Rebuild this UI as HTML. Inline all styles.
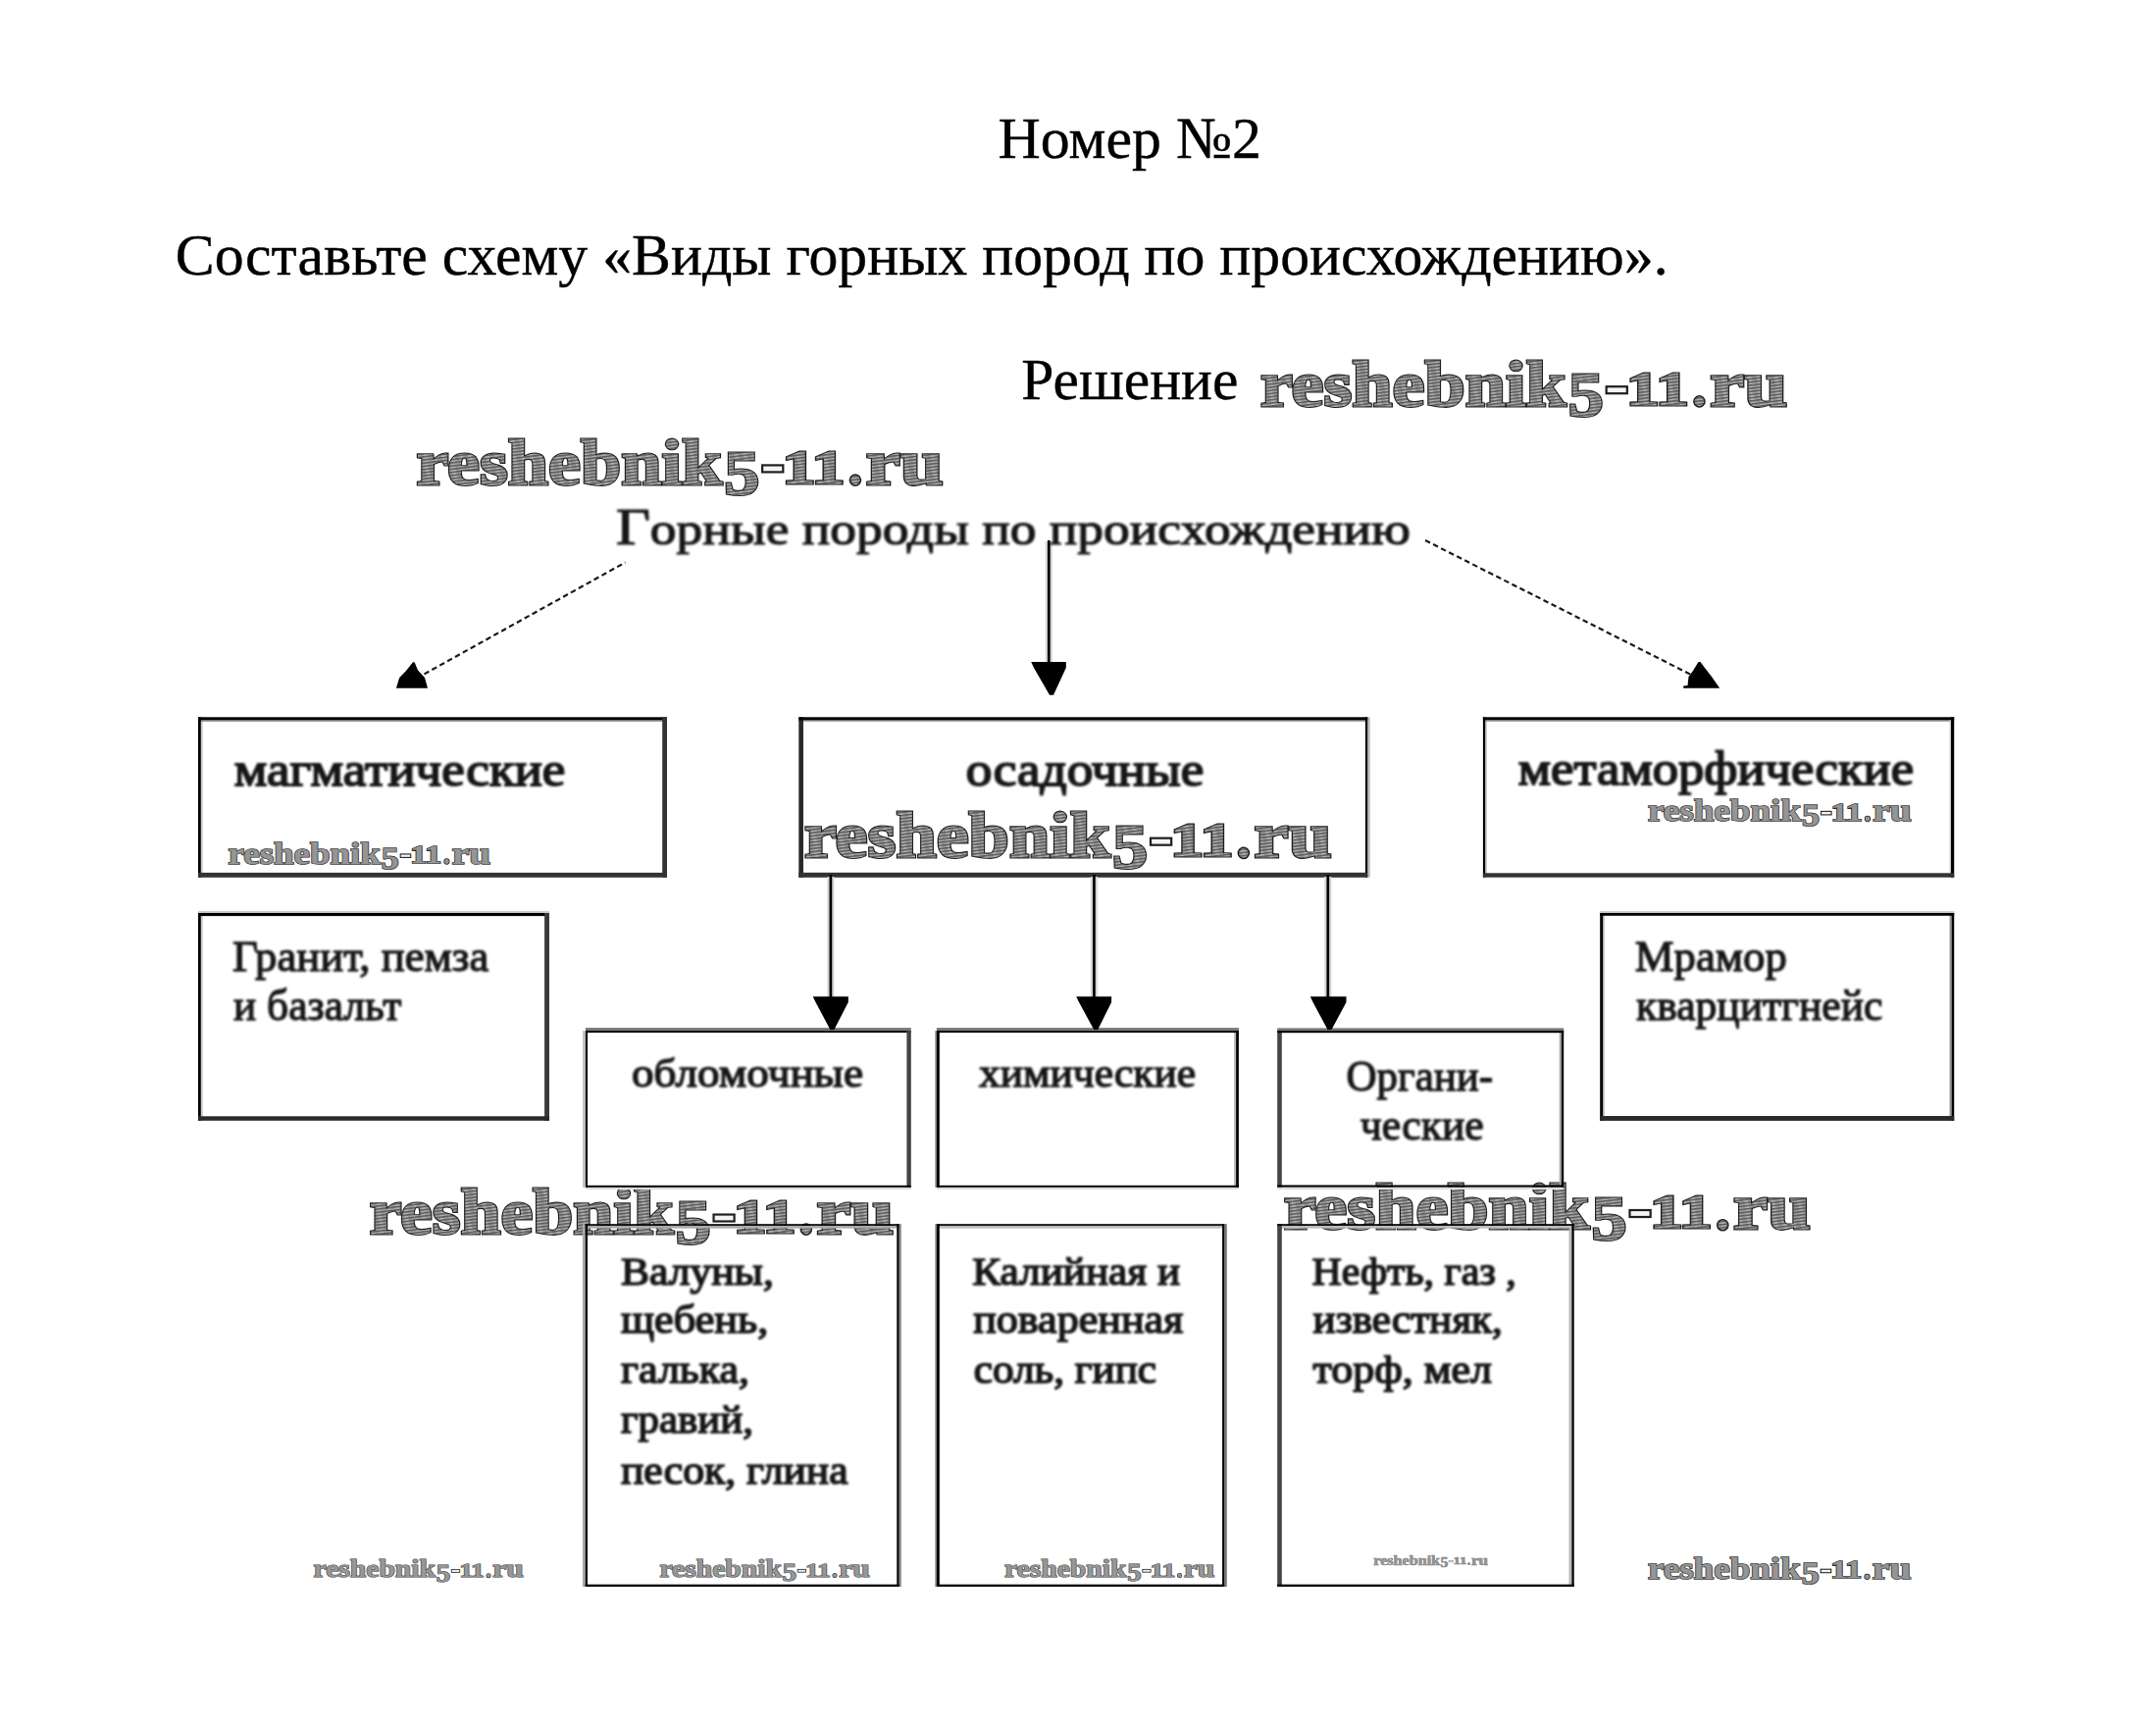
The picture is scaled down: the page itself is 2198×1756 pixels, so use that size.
<!DOCTYPE html>
<html lang="ru">
<head>
<meta charset="utf-8">
<title>Номер №2</title>
<style>
html,body{margin:0;padding:0;background:#fff;}
body{width:2198px;height:1756px;overflow:hidden;font-family:"Liberation Serif",serif;}
svg{display:block;position:absolute;left:0;top:0;}
.h{font-family:"Liberation Serif",serif;font-size:60px;fill:#000;stroke:#000;stroke-width:0.4px;}
.d{font-family:"Liberation Serif",serif;font-size:48.5px;fill:#161616;stroke:#161616;stroke-width:1.8px;stroke-linejoin:round;}
.g{font-family:"Liberation Serif",serif;font-size:46px;fill:#161616;stroke:#161616;stroke-width:1.2px;stroke-linejoin:round;}
.s{font-family:"Liberation Serif",serif;font-size:44px;fill:#161616;stroke:#161616;stroke-width:1.3px;stroke-linejoin:round;}
.s2{font-family:"Liberation Serif",serif;font-size:41px;fill:#161616;stroke:#161616;stroke-width:1.4px;stroke-linejoin:round;}
.s3{font-family:"Liberation Serif",serif;font-size:40.5px;fill:#161616;stroke:#161616;stroke-width:1.6px;stroke-linejoin:round;}
.ln{stroke:#000;stroke-width:2.7px;fill:none;}
.lh{stroke:#d4d4d4;stroke-width:7px;fill:none;}
.dl{stroke:#1a1a1a;stroke-width:2.2px;fill:none;stroke-dasharray:5.5 3.5;}
.ah{fill:#000;stroke:none;}
.wo{font-family:"Liberation Serif",serif;font-weight:bold;fill:var(--woc,#1e1e1e);stroke:var(--woc,#1e1e1e);stroke-width:var(--wow,3px);stroke-linejoin:miter;}
.wi{font-family:"Liberation Serif",serif;font-weight:bold;fill:var(--wf,url(#hatch));stroke:var(--wf,url(#hatch));stroke-width:0.9px;}
</style>
</head>
<body>
<svg width="2198" height="1756" viewBox="0 0 2198 1756">
<defs>
<pattern id="hatch" width="9" height="3.2" patternUnits="userSpaceOnUse" patternTransform="rotate(-7)">
<rect width="9" height="3.2" fill="#989898"/>
<rect y="0" width="9" height="1.4" fill="#5a5a5a"/>
<rect x="2" y="1.9" width="4" height="0.9" fill="#c4c4c4"/>
</pattern>
<filter id="bl" x="-5%" y="-20%" width="110%" height="140%"><feGaussianBlur stdDeviation="1.1"/></filter>
<g id="wmk">
<text class="wo" font-size="65" x="0.00" y="-1.20" textLength="312.01" lengthAdjust="spacingAndGlyphs">reshebnik</text>
<text class="wo" font-size="63.5" x="313.98" y="9.40" textLength="36.05" lengthAdjust="spacingAndGlyphs">5</text>
<text class="wo" font-size="48.8" x="373.31" y="-2.20" textLength="63.76" lengthAdjust="spacingAndGlyphs">11</text>
<text class="wo" font-size="65" x="458.49" y="-1.20" textLength="79.01" lengthAdjust="spacingAndGlyphs">ru</text>
<rect x="352.9" y="-20.6" width="21.2" height="7" style="fill:#f4f4f4;stroke:var(--woc,#1e1e1e);stroke-width:2.2px"/>
<circle cx="447.75" cy="-5.4" r="6.3" style="fill:var(--woc,#1e1e1e)"/>
<text class="wi" font-size="65" x="0.00" y="-1.20" textLength="312.01" lengthAdjust="spacingAndGlyphs">reshebnik</text>
<text class="wi" font-size="63.5" x="313.98" y="9.40" textLength="36.05" lengthAdjust="spacingAndGlyphs">5</text>
<text class="wi" font-size="48.8" x="373.31" y="-2.20" textLength="63.76" lengthAdjust="spacingAndGlyphs">11</text>
<text class="wi" font-size="65" x="458.49" y="-1.20" textLength="79.01" lengthAdjust="spacingAndGlyphs">ru</text>
<circle cx="447.75" cy="-5.4" r="4.8" style="fill:var(--wf,url(#hatch))"/>
</g>
</defs>


<g id="hdr">
<text id="nomer" class="h" x="1017.6" y="160.8" textLength="268.4" lengthAdjust="spacingAndGlyphs">Номер №2</text>
<text id="sost" class="h" x="178.8" y="279.8" textLength="1521.8" lengthAdjust="spacingAndGlyphs">Составьте схему «Виды горных пород по происхождению».</text>
<text id="resh" class="h" x="1041.2" y="407.0" textLength="221.2" lengthAdjust="spacingAndGlyphs">Решение</text>
</g>
<g id="wm">
<use href="#wmk" transform="translate(1285.0,414.8) scale(0.9993)"/>
<use href="#wmk" transform="translate(424.5,495.0) scale(0.9993)"/>
<use href="#wmk" transform="translate(820.0,875.3) scale(1.0002)"/>
<use href="#wmk" transform="translate(376.7,1259.0) scale(0.9942)"/>
<use href="#wmk" transform="translate(1308.8,1254.6) scale(0.9994)"/>
<use href="#wmk" transform="translate(232.5,881.2) scale(0.4979)" style="--wf:#959595;--wow:3.3px;--woc:#242424"/>
<use href="#wmk" transform="translate(1680.0,837.7) scale(0.5001)" style="--wf:#959595;--wow:3.3px;--woc:#242424"/>
<use href="#wmk" transform="translate(319.6,1608.8) scale(0.3986)" style="--wf:#979797;--wow:3.0px;--woc:#303030"/>
<use href="#wmk" transform="translate(672.5,1608.6) scale(0.3986)" style="--wf:#979797;--wow:3.0px;--woc:#303030"/>
<use href="#wmk" transform="translate(1024.0,1608.6) scale(0.3988)" style="--wf:#979797;--wow:3.0px;--woc:#303030"/>
<use href="#wmk" transform="translate(1400.3,1595.9) scale(0.2173)" style="--wf:#969696;--wow:1.8px;--woc:#6a6a6a"/>
<use href="#wmk" transform="translate(1680.0,1610.5) scale(0.4992)" style="--wf:#959595;--wow:3.3px;--woc:#242424"/>
</g>
<g id="boxes">
<rect x="204.8" y="731.3" width="2.0" height="163.5" fill="#ccc"/>
<rect x="202.0" y="734.3" width="478.0" height="1.5" fill="#888"/>
<rect x="202.0" y="731.3" width="2.8" height="163.5" fill="#000"/>
<rect x="202.0" y="731.3" width="478.0" height="3.0" fill="#000"/>
<rect x="675.2" y="731.3" width="4.8" height="163.5" fill="#333"/>
<rect x="202.0" y="889.9" width="478.0" height="4.9" fill="#333"/>
<rect x="814.3" y="734.4" width="579.9" height="1.3" fill="#888"/>
<rect x="1394.2" y="731.3" width="2.5" height="163.5" fill="#bbb"/>
<rect x="814.3" y="731.3" width="4.7" height="163.5" fill="#2a2a2a"/>
<rect x="814.3" y="731.3" width="579.9" height="3.1" fill="#000"/>
<rect x="1391.9" y="731.3" width="2.3" height="163.5" fill="#000"/>
<rect x="814.3" y="889.8" width="579.9" height="5.0" fill="#333"/>
<rect x="1514.2" y="731.3" width="1.8" height="163.4" fill="#ccc"/>
<rect x="1511.9" y="734.2" width="480.3" height="1.5" fill="#888"/>
<rect x="1987.5" y="731.3" width="1.5" height="163.4" fill="#ccc"/>
<rect x="1511.9" y="731.3" width="2.3" height="163.4" fill="#000"/>
<rect x="1511.9" y="731.3" width="480.3" height="2.9" fill="#000"/>
<rect x="1989.0" y="731.3" width="3.2" height="163.4" fill="#000"/>
<rect x="1511.9" y="890.3" width="480.3" height="4.4" fill="#333"/>
<rect x="204.8" y="931.0" width="2.0" height="211.8" fill="#ccc"/>
<rect x="202.0" y="928.9" width="358.0" height="2.1" fill="#ccc"/>
<rect x="202.0" y="931.0" width="2.8" height="211.8" fill="#000"/>
<rect x="202.0" y="931.0" width="358.0" height="3.1" fill="#000"/>
<rect x="555.1" y="931.0" width="4.9" height="211.8" fill="#3a3a3a"/>
<rect x="202.0" y="1138.3" width="358.0" height="4.5" fill="#2a2a2a"/>
<rect x="1634.2" y="931.0" width="1.8" height="211.9" fill="#ccc"/>
<rect x="1631.2" y="929.0" width="361.0" height="2.0" fill="#ccc"/>
<rect x="1987.5" y="931.0" width="2.1" height="211.9" fill="#999"/>
<rect x="1631.2" y="931.0" width="3.0" height="211.9" fill="#000"/>
<rect x="1631.2" y="931.0" width="361.0" height="2.8" fill="#000"/>
<rect x="1989.6" y="931.0" width="2.6" height="211.9" fill="#000"/>
<rect x="1631.2" y="1138.0" width="361.0" height="4.9" fill="#2a2a2a"/>
<rect x="594.2" y="1051.1" width="2.8" height="159.7" fill="#bbb"/>
<rect x="597.0" y="1048.1" width="331.8" height="3.0" fill="#777"/>
<rect x="597.0" y="1210.8" width="331.8" height="2.2" fill="#ddd"/>
<rect x="597.0" y="1051.1" width="2.0" height="159.7" fill="#000"/>
<rect x="597.0" y="1051.1" width="331.8" height="1.9" fill="#000"/>
<rect x="924.4" y="1051.1" width="4.4" height="159.7" fill="#444"/>
<rect x="597.0" y="1208.8" width="331.8" height="2.0" fill="#000"/>
<rect x="953.3" y="1051.1" width="1.6" height="159.7" fill="#888"/>
<rect x="954.9" y="1048.1" width="308.0" height="3.0" fill="#777"/>
<rect x="1258.0" y="1051.1" width="2.1" height="159.7" fill="#bbb"/>
<rect x="954.9" y="1210.8" width="308.0" height="2.2" fill="#ddd"/>
<rect x="954.9" y="1051.1" width="2.9" height="159.7" fill="#000"/>
<rect x="954.9" y="1051.1" width="308.0" height="1.9" fill="#000"/>
<rect x="1260.1" y="1051.1" width="2.8" height="159.7" fill="#000"/>
<rect x="954.9" y="1208.8" width="308.0" height="2.0" fill="#000"/>
<rect x="1302.2" y="1048.4" width="292.0" height="2.7" fill="#777"/>
<rect x="1589.7" y="1051.1" width="2.1" height="159.5" fill="#aaa"/>
<rect x="1302.2" y="1210.6" width="292.0" height="2.4" fill="#ddd"/>
<rect x="1302.2" y="1051.1" width="4.6" height="159.5" fill="#444"/>
<rect x="1302.2" y="1051.1" width="292.0" height="2.1" fill="#000"/>
<rect x="1591.8" y="1051.1" width="2.4" height="159.5" fill="#000"/>
<rect x="1302.2" y="1208.5" width="292.0" height="2.1" fill="#000"/>
<rect x="593.9" y="1248.2" width="2.8" height="369.8" fill="#aaa"/>
<rect x="596.7" y="1249.9" width="319.9" height="2.7" fill="#aaa"/>
<rect x="916.6" y="1248.2" width="2.2" height="369.8" fill="#888"/>
<rect x="596.7" y="1248.2" width="2.3" height="369.8" fill="#000"/>
<rect x="596.7" y="1248.2" width="319.9" height="1.7" fill="#000"/>
<rect x="914.3" y="1248.2" width="2.3" height="369.8" fill="#000"/>
<rect x="596.7" y="1615.7" width="319.9" height="2.3" fill="#000"/>
<rect x="953.3" y="1248.2" width="1.6" height="369.8" fill="#888"/>
<rect x="954.9" y="1249.9" width="293.3" height="2.7" fill="#bbb"/>
<rect x="1248.2" y="1248.2" width="2.6" height="369.8" fill="#777"/>
<rect x="954.9" y="1248.2" width="2.9" height="369.8" fill="#000"/>
<rect x="954.9" y="1248.2" width="293.3" height="1.7" fill="#000"/>
<rect x="1246.1" y="1248.2" width="2.1" height="369.8" fill="#000"/>
<rect x="954.9" y="1615.7" width="293.3" height="2.3" fill="#000"/>
<rect x="1302.2" y="1249.9" width="302.5" height="2.7" fill="#bbb"/>
<rect x="1599.5" y="1248.2" width="2.9" height="369.8" fill="#bbb"/>
<rect x="1302.2" y="1248.2" width="4.6" height="369.8" fill="#444"/>
<rect x="1302.2" y="1248.2" width="302.5" height="1.7" fill="#000"/>
<rect x="1602.4" y="1248.2" width="2.3" height="369.8" fill="#000"/>
<rect x="1302.2" y="1615.7" width="302.5" height="2.3" fill="#000"/>
</g>
<g id="arrows">
<line class="dl" x1="432.5" y1="687.4" x2="637.5" y2="573.5"/>
<polygon class="ah" points="403.9,701.8 436,701.8 433,691 426,683.5 422.6,675.3 421,675.3 414,684 407.2,691"/>
<line class="lh" x1="1069.3" y1="552" x2="1069.3" y2="676"/>
<line class="ln" x1="1069.3" y1="551" x2="1069.3" y2="678"/>
<polygon class="ah" points="1051.2,675.1 1086.8,675.1 1086.8,681 1074,708.8 1070,708.8 1054,681"/>
<line class="dl" x1="1723" y1="687.5" x2="1452" y2="550.5"/>
<polygon class="ah" points="1716.2,701.8 1753.2,701.8 1745,690 1738,681 1733.5,675.1 1731.5,675.1 1726,684 1721.5,690 1720.5,699 1716.2,699.5"/>
<line class="lh" x1="846.9" y1="894" x2="846.9" y2="1017"/>
<line class="ln" x1="846.9" y1="892" x2="846.9" y2="1018"/>
<polygon class="ah" points="828.7,1016.2 864.8,1016.2 864.8,1022 850.4,1050 846.4,1050 831.5,1022"/>
<line class="lh" x1="1115.4" y1="894" x2="1115.4" y2="1017"/>
<line class="ln" x1="1115.4" y1="892" x2="1115.4" y2="1018"/>
<polygon class="ah" points="1097.2,1016.2 1133.1,1016.2 1133.1,1022 1119.2,1050 1115.2,1050 1100,1022"/>
<line class="lh" x1="1353.8" y1="894" x2="1353.8" y2="1017"/>
<line class="ln" x1="1353.8" y1="892" x2="1353.8" y2="1018"/>
<polygon class="ah" points="1335.8,1016.2 1372.5,1016.2 1372.5,1022 1357.5,1050 1353.5,1050 1338.5,1022"/>
</g>

<g id="dtext" filter="url(#bl)">
<text id="gorn" class="g" x="628.0" y="555.0" textLength="810.0" lengthAdjust="spacingAndGlyphs"><tspan font-size="52">Г</tspan>орные породы по происхождению</text>
<text id="magm" class="d" x="238.8" y="801.2" textLength="337.6" lengthAdjust="spacingAndGlyphs">магматические</text>
<text id="osad" class="d" x="984.8" y="801.0" textLength="242.6" lengthAdjust="spacingAndGlyphs">осадочные</text>
<text id="meta" class="d" x="1547.8" y="800.0" textLength="403.2" lengthAdjust="spacingAndGlyphs">метаморфические</text>
<text id="granit" class="s" x="237.0" y="990.0" textLength="261.4" lengthAdjust="spacingAndGlyphs">Гранит, пемза</text>
<text id="ibaz" class="s" x="238.0" y="1039.7" textLength="171.2" lengthAdjust="spacingAndGlyphs">и базальт</text>
<text id="mramor" class="s" x="1666.8" y="990.0" textLength="155.0" lengthAdjust="spacingAndGlyphs">Мрамор</text>
<text id="kvarc" class="s" x="1668.0" y="1039.7" textLength="251.4" lengthAdjust="spacingAndGlyphs">кварцитгнейс</text>
<text id="oblom" class="s2" x="644.0" y="1108.0" textLength="236.0" lengthAdjust="spacingAndGlyphs">обломочные</text>
<text id="him" class="s2" x="998.0" y="1108.0" textLength="221.0" lengthAdjust="spacingAndGlyphs">химические</text>
<text id="organi" class="s" x="1372.6" y="1112.0" textLength="149.4" lengthAdjust="spacingAndGlyphs">Органи-</text>
<text id="cheskie" class="s" x="1386.8" y="1161.8" textLength="126.0" lengthAdjust="spacingAndGlyphs">ческие</text>
<text id="valuny" class="s3" x="633.0" y="1310.0" textLength="155.8" lengthAdjust="spacingAndGlyphs">Валуны,</text>
<text id="scheben" class="s3" x="633.0" y="1359.0" textLength="150.2" lengthAdjust="spacingAndGlyphs">щебень,</text>
<text id="galka" class="s3" x="633.0" y="1409.5" textLength="131.0" lengthAdjust="spacingAndGlyphs">галька,</text>
<text id="graviy" class="s3" x="633.0" y="1461.0" textLength="135.0" lengthAdjust="spacingAndGlyphs">гравий,</text>
<text id="pesok" class="s3" x="633.0" y="1513.0" textLength="231.6" lengthAdjust="spacingAndGlyphs">песок, глина</text>
<text id="kali" class="s3" x="991.2" y="1310.0" textLength="212.0" lengthAdjust="spacingAndGlyphs">Калийная и</text>
<text id="povar" class="s3" x="992.2" y="1359.0" textLength="214.2" lengthAdjust="spacingAndGlyphs">поваренная</text>
<text id="sol" class="s3" x="992.8" y="1410.0" textLength="186.2" lengthAdjust="spacingAndGlyphs">соль, гипс</text>
<text id="neft" class="s3" x="1337.6" y="1310.0" textLength="208.2" lengthAdjust="spacingAndGlyphs">Нефть, газ ,</text>
<text id="izv" class="s3" x="1338.6" y="1359.0" textLength="193.2" lengthAdjust="spacingAndGlyphs">известняк,</text>
<text id="torf" class="s3" x="1338.6" y="1410.0" textLength="182.4" lengthAdjust="spacingAndGlyphs">торф, мел</text>
</g>
</svg>
</body>
</html>
